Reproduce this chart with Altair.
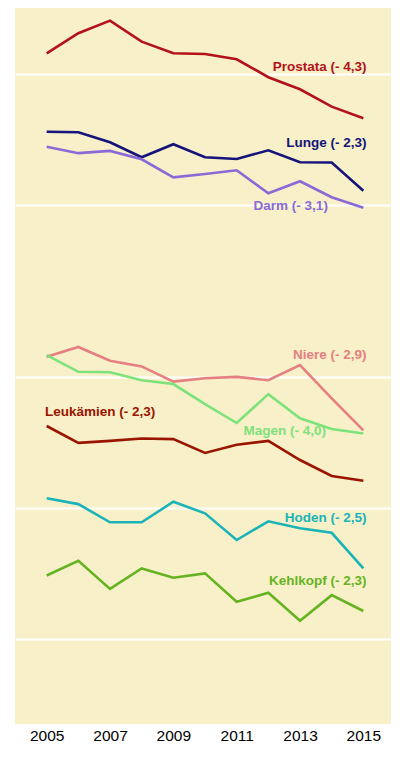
import altair as alt
import pandas as pd

years = list(range(2005, 2016))

prostata = [111.6, 124.1, 132.7, 118.7, 111.6, 111.2, 108.1, 98.3, 92.2, 84.1, 79.1]
lunge = [73.6, 73.4, 69.6, 64.3, 68.9, 64.3, 63.7, 66.7, 62.6, 62.5, 53.8]
darm = [68.0, 65.7, 66.5, 63.6, 57.8, 58.8, 60.0, 53.1, 56.6, 52.0, 49.2]
niere = [22.3, 23.5, 21.85, 21.2, 19.55, 19.9, 20.05, 19.7, 21.35, 17.9, 15.1]
magen = [22.5, 20.6, 20.55, 19.7, 19.3, 17.35, 15.7, 18.3, 16.1, 15.2, 14.85]
leukaemien = [15.45, 14.13, 14.28, 14.46, 14.41, 13.39, 13.99, 14.28, 12.9, 11.85, 11.56]
hoden = [10.53, 10.21, 9.27, 9.27, 10.34, 9.72, 8.44, 9.32, 8.98, 8.77, 7.26]
kehlkopf = [6.99, 7.56, 6.51, 7.26, 6.91, 7.07, 6.08, 6.38, 5.5, 6.3, 5.79]

series_names = ["Prostata", "Lunge", "Darm", "Niere", "Magen", "Leukämien", "Hoden", "Kehlkopf"]
series_values = [prostata, lunge, darm, niere, magen, leukaemien, hoden, kehlkopf]
series_colors = ["#b3121a", "#14147a", "#8a6ad6", "#e67f82", "#7de27a", "#9a1500", "#1ab4b8", "#66b322"]

label_texts = ["Prostata (- 4,3)", "Lunge (- 2,3)", "Darm (- 3,1)", "Niere (- 2,9)",
               "Magen (- 4,0)", "Leukämien (- 2,3)", "Hoden (- 2,5)", "Kehlkopf (- 2,3)"]
label_x = [2015.1, 2015.1, 2013.88, 2015.1, 2013.82, 2004.95, 2015.1, 2015.1]
label_y = [103.9, 69.2, 49.7, 22.5, 15.04, 16.67, 9.47, 6.79]
label_align = ["right", "right", "right", "right", "right", "left", "right", "right"]

grid_values = [5, 10, 20, 50, 100]
year_ticks = [2005, 2007, 2009, 2011, 2013, 2015]

rows = []
for name, vals in zip(series_names, series_values):
    for yr, v in zip(years, vals):
        rows.append({"Jahr": yr, "Wert": v, "Serie": name})
df = pd.DataFrame(rows)

labels = pd.DataFrame({"text": label_texts, "x": label_x, "y": label_y,
                       "align": label_align, "Serie": series_names})

xscale = alt.Scale(domain=[2004.0, 2015.873], nice=False, zero=False)
yscale = alt.Scale(type="log", domain=[3.18, 141.9], nice=False)
cscale = alt.Scale(domain=series_names, range=series_colors)

lines = alt.Chart(df).mark_line(strokeWidth=2.6).encode(
    x=alt.X("Jahr:Q", scale=xscale,
            axis=alt.Axis(values=year_ticks, format="d", title=None, grid=False,
                          ticks=False, tickSize=0, domain=False, labelFontSize=15.5,
                          labelColor="#000000", labelPadding=4, labelFont="Liberation Sans")),
    y=alt.Y("Wert:Q", scale=yscale,
            axis=alt.Axis(values=grid_values, title=None, labels=False, ticks=False,
                          tickSize=0, domain=False, grid=True, gridColor="#ffffff",
                          gridWidth=2.2, gridOpacity=1)),
    color=alt.Color("Serie:N", scale=cscale, legend=None),
    detail="Serie:N",
)

def text_layer(align):
    return alt.Chart(labels).transform_filter(
        alt.datum.align == align
    ).mark_text(align=align, baseline="middle", fontWeight="bold", fontSize=13.5,
                font="Liberation Sans").encode(
        x=alt.X("x:Q", scale=xscale),
        y=alt.Y("y:Q", scale=yscale),
        text="text:N",
        color=alt.Color("Serie:N", scale=cscale, legend=None),
    )

chart = alt.layer(lines, text_layer("right"), text_layer("left")).properties(
    width=376, height=716,
    background="#ffffff",
    padding={"left": 7, "top": 0, "right": 0, "bottom": 0},
).configure_view(fill="#f8f0c8", strokeOpacity=0, strokeWidth=0)

chart.save("out.html", embed_options={"renderer": "svg", "actions": False})
